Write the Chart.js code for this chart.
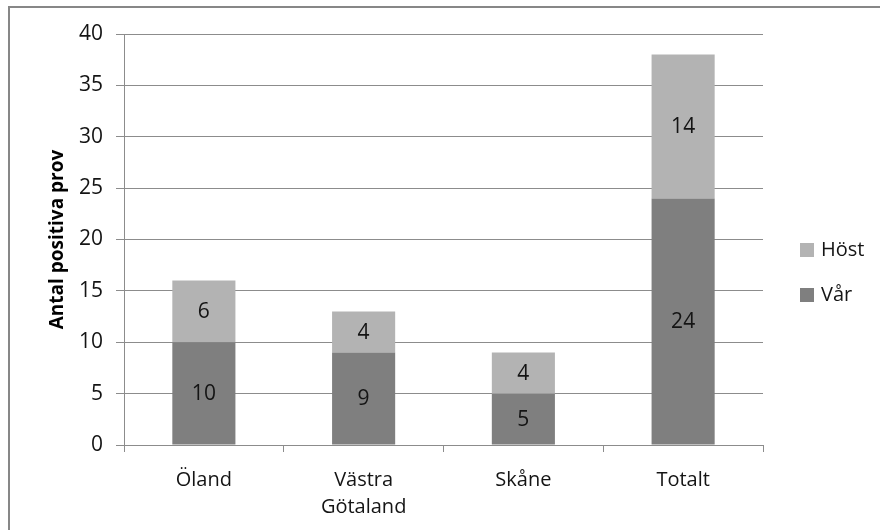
<!DOCTYPE html>
<html>
<head>
<meta charset="utf-8">
<script src="https://cdn.jsdelivr.net/npm/chart.js@4/dist/chart.umd.min.js"></script>
<style>
  html, body { margin: 0; padding: 0; background: #ffffff; }
  canvas { display: block; }
</style>
</head>
<body>
<canvas id="chart" width="880" height="530"></canvas>
<script>
// Positive samples per region, split by season
const categories = ['Öland', ['Västra', 'Götaland'], 'Skåne', 'Totalt'];
const varValues = [10, 9, 5, 24];    // Vår (spring)
const hostValues = [6, 4, 4, 14];    // Höst (autumn)
const yMin = 0;
const yMax = 40;
const yStep = 5;

const FONT = '"Open Sans", "DejaVu Sans", sans-serif';
const TEXT = '#141414';
const LINE = '#8c8c8c';

// Frame lines along the top and left of the chart
const framePlugin = {
  id: 'frame',
  beforeDraw(chart) {
    const ctx = chart.ctx;
    ctx.save();
    ctx.fillStyle = '#ffffff';
    ctx.fillRect(0, 0, chart.width, chart.height);
    ctx.fillStyle = '#878787';
    ctx.fillRect(8, 6, chart.width - 8, 2);
    ctx.fillRect(8, 6, 2, chart.height - 6);
    ctx.restore();
  }
};

// Value written in the middle of each stacked segment
const segmentLabels = {
  id: 'segmentLabels',
  afterDatasetsDraw(chart) {
    const ctx = chart.ctx;
    ctx.save();
    ctx.font = '21px ' + FONT;
    ctx.fillStyle = TEXT;
    ctx.textAlign = 'center';
    ctx.textBaseline = 'middle';
    chart.data.datasets.forEach((ds, i) => {
      const meta = chart.getDatasetMeta(i);
      meta.data.forEach((bar, j) => {
        const v = ds.data[j];
        const p = bar.getProps(['x', 'y', 'base'], true);
        ctx.fillText(String(v), p.x, (p.y + p.base) / 2 + 1);
      });
    });
    ctx.restore();
  }
};

// Legend on the right, top series listed first
const sideLegend = {
  id: 'sideLegend',
  afterDraw(chart) {
    const ctx = chart.ctx;
    const items = chart.data.datasets.map(d => ({ label: d.label, color: d.backgroundColor })).reverse();
    ctx.save();
    ctx.font = '20px ' + FONT;
    ctx.textBaseline = 'middle';
    ctx.textAlign = 'left';
    items.forEach((it, k) => {
      const cy = 250 + k * 45;
      ctx.fillStyle = it.color;
      ctx.fillRect(800, cy - 7, 14, 14);
      ctx.fillStyle = TEXT;
      ctx.fillText(it.label, 821, cy);
    });
    ctx.restore();
  }
};

new Chart(document.getElementById('chart'), {
  type: 'bar',
  data: {
    labels: categories,
    datasets: [
      { label: 'Vår', data: varValues, backgroundColor: '#7f7f7f', borderWidth: 0 },
      { label: 'Höst', data: hostValues, backgroundColor: '#b3b3b3', borderWidth: 0 }
    ]
  },
  options: {
    responsive: false,
    animation: false,
    devicePixelRatio: 1,
    layout: { padding: { left: 0, top: 34, right: 117, bottom: 0 } },
    datasets: { bar: { categoryPercentage: 1, barPercentage: 0.395 } },
    plugins: {
      legend: { display: false },
      tooltip: { enabled: false }
    },
    scales: {
      x: {
        stacked: true,
        offset: true,
        afterFit(scale) { scale.height = 85; },
        grid: {
          offset: true,
          drawOnChartArea: false,
          drawTicks: true,
          tickLength: 7,
          color: LINE,
          lineWidth: 1
        },
        border: { display: true, color: LINE, width: 1 },
        ticks: {
          color: TEXT,
          font: { family: FONT, size: 20, lineHeight: 1.35 },
          padding: 15,
          maxRotation: 0,
          autoSkip: false
        }
      },
      y: {
        stacked: true,
        min: yMin,
        max: yMax,
        afterFit(scale) { scale.width = 124; },
        grid: {
          color: LINE,
          lineWidth: 1,
          drawTicks: true,
          tickLength: 8
        },
        border: { display: true, color: LINE, width: 1 },
        ticks: {
          stepSize: yStep,
          color: TEXT,
          font: { family: FONT, size: 21 },
          padding: 13
        },
        title: {
          display: true,
          text: 'Antal positiva prov',
          color: '#000000',
          font: { family: FONT, size: 19, weight: 'bold' },
          padding: { top: 46, bottom: 0 }
        }
      }
    }
  },
  plugins: [framePlugin, segmentLabels, sideLegend]
});
</script>
</body>
</html>
